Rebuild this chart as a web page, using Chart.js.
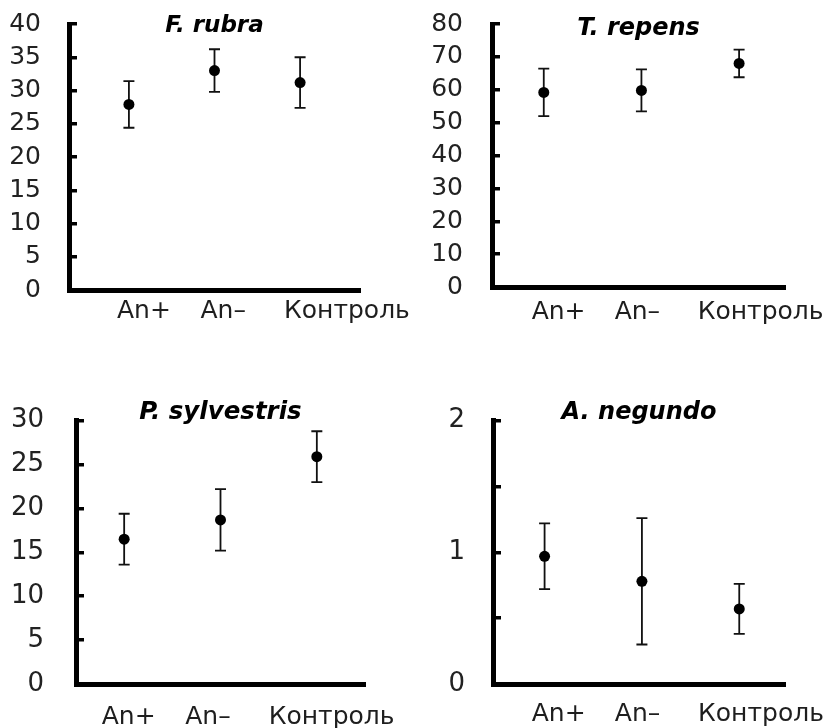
<!DOCTYPE html>
<html lang="ru">
<head>
<meta charset="UTF-8">
<title>An+ / An– / Контроль</title>
<script src="https://cdn.jsdelivr.net/npm/chart.js"></script>
<style>
  body { margin: 0; background: #fff; }
  #wrap { position: relative; width: 827px; height: 728px; background: #fff; }
  #wrap canvas { position: absolute; }
</style>
</head>
<body>
<div id="wrap">
  <canvas id="c1" width="413" height="340" style="left:0;top:0"></canvas>
  <canvas id="c2" width="413" height="340" style="left:414px;top:0"></canvas>
  <canvas id="c3" width="413" height="364" style="left:0;top:364px"></canvas>
  <canvas id="c4" width="413" height="364" style="left:414px;top:364px"></canvas>
</div>
<script>
// data
const categories = ['An+', 'An\u2013', 'Контроль'];

const rubraMean = [27.9, 33.0, 31.2];
const rubraErr  = [3.5, 3.2, 3.8];

const repensMean = [59.2, 59.8, 68.0];
const repensErr  = [7.2, 6.4, 4.2];

const sylvestrisMean = [16.5, 18.7, 25.9];
const sylvestrisErr  = [2.9, 3.5, 2.9];

const negundoMean = [0.97, 0.78, 0.57];
const negundoErr  = [0.25, 0.48, 0.19];

const yMax  = [40, 80, 30, 2];
const yStep = [5, 10, 5, 0.5];

// draws the whiskers under the points
const errorBars = {
	id: 'errorBars',
	beforeDatasetsDraw(chart) {
		const ctx = chart.ctx;
		const y = chart.scales.y;
		chart.data.datasets.forEach((ds, di) => {
			const meta = chart.getDatasetMeta(di);
			meta.data.forEach((pt, i) => {
				const v = ds.data[i].y, e = ds.errors[i];
				const top = y.getPixelForValue(v + e);
				const bot = y.getPixelForValue(v - e);
				ctx.save();
				ctx.strokeStyle = '#111';
				ctx.lineWidth = 1.8;
				ctx.beginPath();
				ctx.moveTo(pt.x, top); ctx.lineTo(pt.x, bot);
				ctx.moveTo(pt.x - 5.5, top); ctx.lineTo(pt.x + 5.5, top);
				ctx.moveTo(pt.x - 5.5, bot); ctx.lineTo(pt.x + 5.5, bot);
				ctx.stroke();
				ctx.restore();
			});
		});
	}
};

function makePanel(id, title, means, errs, k, p) {
	new Chart(document.getElementById(id), {
		type: 'scatter',
		data: {
			datasets: [{
				data: means.map((m, i) => ({ x: i + 1, y: m })),
				errors: errs,
				pointRadius: 5.5,
				pointBackgroundColor: '#000',
				pointBorderWidth: 0,
				showLine: false
			}]
		},
		options: {
			responsive: false,
			devicePixelRatio: 1,
			animation: false,
			layout: { padding: { left: 0, right: p.padRight, top: 0, bottom: 0 } },
			plugins: {
				legend: { display: false },
				tooltip: { enabled: false },
				title: {
					display: true,
					text: title,
					fullSize: false,
					color: '#000',
					font: { family: 'DejaVu Sans', size: p.titleSize, weight: 'bold', style: 'italic' },
					padding: p.titlePad
				}
			},
			scales: {
				// positions the points
				x: {
					type: 'linear',
					display: false,
					min: p.xMin,
					max: p.xMax
				},
				// category labels, left-aligned as in the figure
				xl: {
					type: 'linear',
					position: 'bottom',
					axis: 'x',
					min: p.lMin,
					max: p.lMax,
					afterBuildTicks: s => { s.ticks = categories.map((c, i) => ({ value: i + 1 })); },
					afterFit: s => { s.height = p.axisH; s.paddingLeft = 0; s.paddingRight = 0; },
					grid: { display: false, drawTicks: false, tickLength: 0 },
					border: { display: true, color: '#000', width: 5 },
					ticks: {
						callback: v => categories[v - 1] || '',
						autoSkip: false,
						maxRotation: 0,
						align: 'start',
						padding: p.xPad,
						color: '#1e1e1e',
						font: { family: 'DejaVu Sans', size: 25 }
					}
				},
				y: {
					min: 0,
					max: yMax[k],
					afterFit: s => { s.width = p.axisLeft; s.paddingTop = 0; s.paddingBottom = 0; },
					grid: { drawOnChartArea: false, drawTicks: true, tickLength: -8, color: '#000', lineWidth: 3.5 },
					border: { display: true, color: '#000', width: 5 },
					ticks: {
						stepSize: yStep[k],
						autoSkip: false,
						callback: v => (yStep[k] < 1 && v % 1 !== 0) ? '' : v,
						padding: p.yPad,
						color: '#222',
						font: { family: 'DejaVu Sans', size: p.yFont }
					}
				}
			}
		},
		plugins: [errorBars]
	});
}

makePanel('c1', 'F. rubra', rubraMean, rubraErr, 0, {
	axisLeft: 69, padRight: 53, axisH: 50, xMin: 0.3, xMax: 3.7, lMin: 0.425, lMax: 3.91,
	xPad: 6, yPad: 36, yFont: 25,
	titleSize: 23, titlePad: { top: 12.4, bottom: -16 }
});
makePanel('c2', 'T. repens', repensMean, repensErr, 1, {
	axisLeft: 78, padRight: 42, axisH: 53, xMin: 0.47, xMax: 3.47, lMin: 0.522, lMax: 4.052,
	xPad: 10, yPad: 37, yFont: 25,
	titleSize: 24, titlePad: { top: 14.6, bottom: -19.4 }
});
makePanel('c3', 'P. sylvestris', sylvestrisMean, sylvestrisErr, 2, {
	axisLeft: 76, padRight: 48, axisH: 44, xMin: 0.5, xMax: 3.5, lMin: 0.692, lMax: 4.153,
	xPad: 18, yPad: 40, yFont: 26,
	titleSize: 24.5, titlePad: { top: 33.6, bottom: -6.3 }
});
makePanel('c4', 'A. negundo', negundoMean, negundoErr, 3, {
	axisLeft: 79, padRight: 42, axisH: 44, xMin: 0.47, xMax: 3.47, lMin: 0.535, lMax: 4.045,
	xPad: 15, yPad: 36, yFont: 26,
	titleSize: 24, titlePad: { top: 34.4, bottom: -6.5 }
});
</script>
</body>
</html>
